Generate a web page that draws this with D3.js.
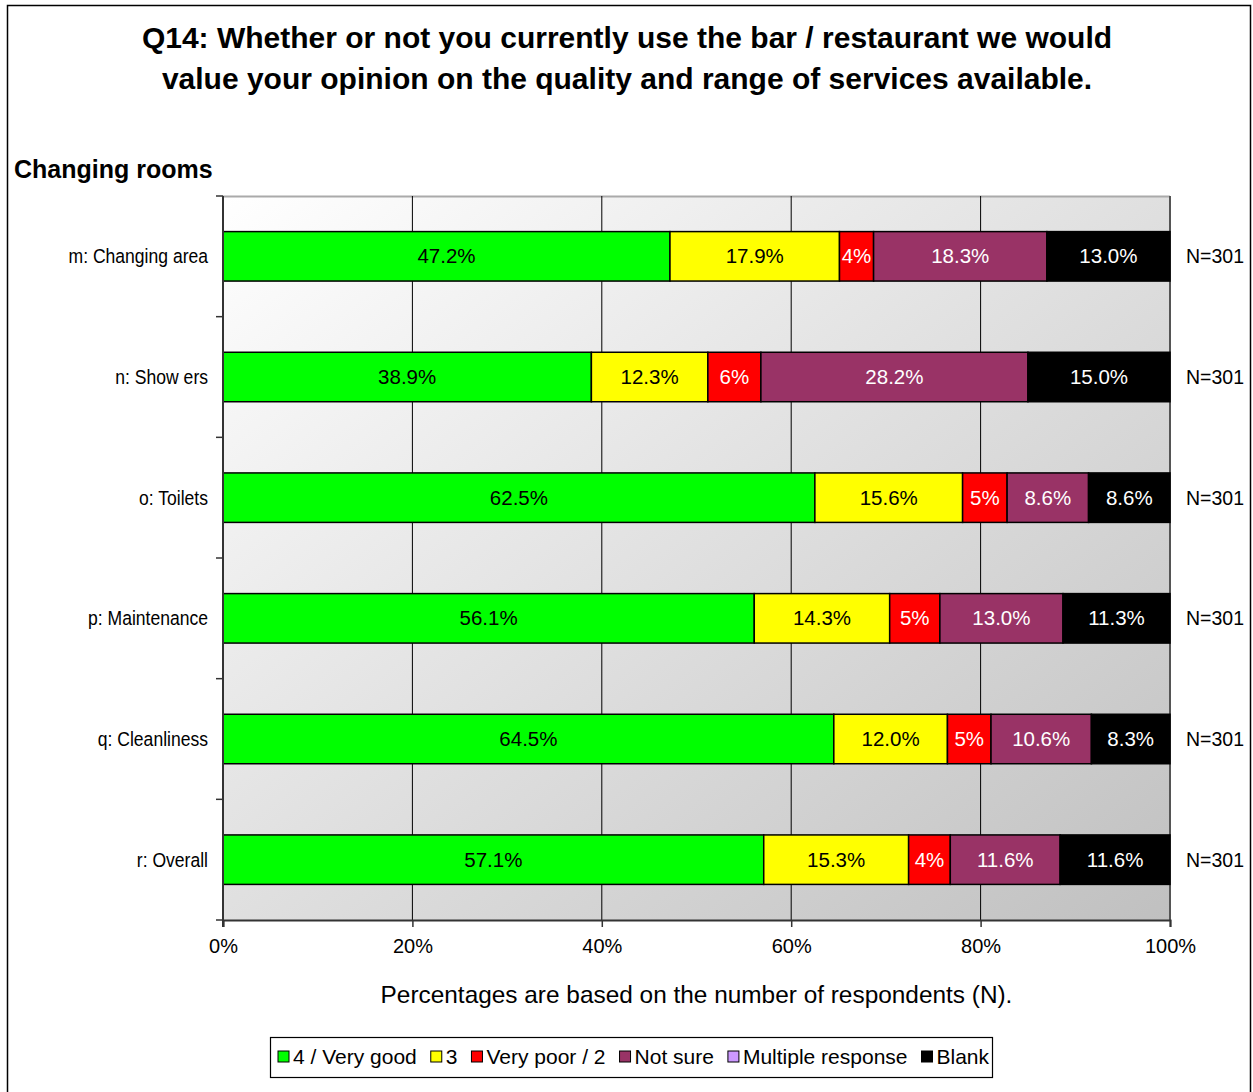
<!DOCTYPE html>
<html>
<head>
<meta charset="utf-8">
<script src="https://cdn.jsdelivr.net/npm/d3@7"></script>
<style>
  body { margin: 0; background: #fff; }
  svg { font-family: "Liberation Sans", Arial, sans-serif; }
</style>
</head>
<body>
<div id="chart"></div>
<script>
var categories = ["m: Changing area", "n: Show ers", "o: Toilets", "p: Maintenance", "q: Cleanliness", "r: Overall"];
var seriesNames = ["4 / Very good", "3", "Very poor / 2", "Not sure", "Multiple response", "Blank"];
var seriesColors = ["#00ff00", "#ffff00", "#ff0000", "#993366", "#cc99ff", "#000000"];
var labelColors = ["#000", "#000", "#fff", "#fff", "#000", "#fff"];
var veryGood = [47.2, 38.9, 62.5, 56.1, 64.5, 57.1];
var three = [17.9, 12.3, 15.6, 14.3, 12.0, 15.3];
var veryPoor = [3.6, 5.6, 4.7, 5.3, 4.6, 4.4];
var notSure = [18.3, 28.2, 8.6, 13.0, 10.6, 11.6];
var multiple = [0, 0, 0, 0, 0, 0];
var blank = [13.0, 15.0, 8.6, 11.3, 8.3, 11.6];
var nLabels = ["N=301", "N=301", "N=301", "N=301", "N=301", "N=301"];
var xTicks = [0, 20, 40, 60, 80, 100];

var W = 1253, H = 1092;
var margin = {top: 196, right: 83, bottom: 172, left: 223};
var width = W - margin.left - margin.right;
var height = H - margin.top - margin.bottom;

var svg = d3.select("#chart").append("svg")
  .attr("width", W)
  .attr("height", H);

// outer frame
svg.append("rect")
  .attr("x", 7.5).attr("y", 5.5)
  .attr("width", 1243).attr("height", 1090)
  .attr("fill", "none").attr("stroke", "#000").attr("stroke-width", 1.5);

// title
svg.append("text").attr("x", 627).attr("y", 48)
  .attr("text-anchor", "middle").attr("font-size", 30).attr("font-weight", "bold")
  .text("Q14: Whether or not you currently use the bar / restaurant we would");
svg.append("text").attr("x", 627).attr("y", 89)
  .attr("text-anchor", "middle").attr("font-size", 30).attr("font-weight", "bold")
  .text("value your opinion on the quality and range of services available.");
svg.append("text").attr("x", 14).attr("y", 178)
  .attr("font-size", 25).attr("font-weight", "bold")
  .text("Changing rooms");

var defs = svg.append("defs");
var grad = defs.append("linearGradient").attr("id", "bg")
  .attr("x1", "0%").attr("y1", "0%").attr("x2", "100%").attr("y2", "100%");
grad.append("stop").attr("offset", "0%").attr("stop-color", "#ffffff");
grad.append("stop").attr("offset", "100%").attr("stop-color", "#c0c0c0");

var g = svg.append("g")
  .attr("transform", "translate(" + margin.left + "," + margin.top + ")");

var xScale = d3.scaleLinear().domain([0, 100]).range([0, width]);
var yScale = d3.scaleBand().domain(categories).range([0, height]).paddingInner(0.59).paddingOuter(0.295);

g.append("rect")
  .attr("width", width).attr("height", height)
  .attr("fill", "url(#bg)");
g.append("line").attr("x1", 0).attr("x2", width).attr("y1", 0.5).attr("y2", 0.5)
  .attr("stroke", "#aaa").attr("stroke-width", 2);

// vertical gridlines
g.selectAll(".grid")
  .data(xTicks.slice(1))
  .enter().append("line")
  .attr("class", "grid")
  .attr("x1", function(d) { return xScale(d); })
  .attr("x2", function(d) { return xScale(d); })
  .attr("y1", 0).attr("y2", height)
  .attr("stroke", function(d) { return d == 100 ? "#555" : "#000"; })
  .attr("stroke-width", function(d) { return d == 100 ? 2 : 1; });

var series = [veryGood, three, veryPoor, notSure, multiple, blank];
var rows = categories.map(function(c, i) {
  var x0 = 0;
  return series.map(function(s, k) {
    var seg = {cat: c, k: k, x0: x0, x1: x0 + s[i], v: s[i]};
    x0 += s[i];
    return seg;
  });
});

var segs = [].concat.apply([], rows).filter(function(d) { return d.v > 0; });

g.selectAll(".bar")
  .data(segs)
  .enter().append("rect")
  .attr("class", "bar")
  .attr("x", function(d) { return xScale(d.x0); })
  .attr("y", function(d) { return yScale(d.cat); })
  .attr("width", function(d) { return xScale(d.x1) - xScale(d.x0); })
  .attr("height", yScale.bandwidth())
  .attr("fill", function(d) { return seriesColors[d.k]; })
  .attr("stroke", "#000").attr("stroke-width", 1.5);

g.selectAll(".lab")
  .data(segs)
  .enter().append("text")
  .attr("class", "lab")
  .attr("x", function(d) { return xScale((d.x0 + d.x1) / 2); })
  .attr("y", function(d) { return yScale(d.cat) + yScale.bandwidth() / 2 + 7; })
  .attr("text-anchor", "middle")
  .attr("font-size", 20.5)
  .attr("fill", function(d) { return labelColors[d.k]; })
  .text(function(d) { return d.v < 7 ? Math.round(d.v) + "%" : d.v.toFixed(1) + "%"; });

// N labels
g.selectAll(".nlab")
  .data(categories)
  .enter().append("text")
  .attr("class", "nlab")
  .attr("x", width + 16)
  .attr("y", function(d) { return yScale(d) + yScale.bandwidth() / 2 + 7; })
  .attr("font-size", 19.5)
  .text(function(d, i) { return nLabels[i]; });

// y axis
var yStep = height / categories.length;
var yAxis = g.append("g");
yAxis.append("line").attr("x1", 0).attr("x2", 0).attr("y1", 0).attr("y2", height + 7)
  .attr("stroke", "#333").attr("stroke-width", 2);
yAxis.selectAll(".ytick")
  .data(d3.range(categories.length + 1))
  .enter().append("line")
  .attr("x1", -7).attr("x2", 0)
  .attr("y1", function(d) { return d * yStep; })
  .attr("y2", function(d) { return d * yStep; })
  .attr("stroke", "#333").attr("stroke-width", 1.5);
yAxis.selectAll(".ylab")
  .data(categories)
  .enter().append("text")
  .attr("transform", function(d) {
    return "translate(-15," + (yScale(d) + yScale.bandwidth() / 2 + 7) + ") scale(0.9,1)";
  })
  .attr("text-anchor", "end")
  .attr("font-size", 19.5)
  .text(function(d) { return d; });

// x axis
var xAxis = d3.axisBottom(xScale)
  .tickValues(xTicks)
  .tickSize(7)
  .tickPadding(12)
  .tickFormat(function(d) { return d + "%"; });
var xg = g.append("g")
  .attr("transform", "translate(0," + height + ")")
  .call(xAxis);
xg.select(".domain").attr("stroke", "#333").attr("stroke-width", 2);
xg.selectAll(".tick line").attr("stroke", "#333").attr("stroke-width", 1.5);
xg.selectAll(".tick text").attr("font-size", 20).attr("fill", "#000")
  .attr("font-family", "Liberation Sans, Arial, sans-serif");

svg.append("text")
  .attr("x", margin.left + width / 2)
  .attr("y", 1003)
  .attr("text-anchor", "middle")
  .attr("font-size", 24.4)
  .text("Percentages are based on the number of respondents (N).");

// legend
var legend = svg.append("g").attr("transform", "translate(270,1037)");
legend.append("rect").attr("x", 0.5).attr("y", 0.5).attr("width", 722).attr("height", 40)
  .attr("fill", "#fff").attr("stroke", "#000").attr("stroke-width", 1.2);
var lx = 8;
seriesNames.forEach(function(name, i) {
  legend.append("rect").attr("x", lx).attr("y", 14).attr("width", 11).attr("height", 11)
    .attr("fill", seriesColors[i]).attr("stroke", "#000").attr("stroke-width", 1);
  var t = legend.append("text").attr("x", lx + 15).attr("y", 27)
    .attr("font-size", 21)
    .text(name);
  lx += 15 + t.node().getComputedTextLength() + 14;
});
</script>
</body>
</html>
